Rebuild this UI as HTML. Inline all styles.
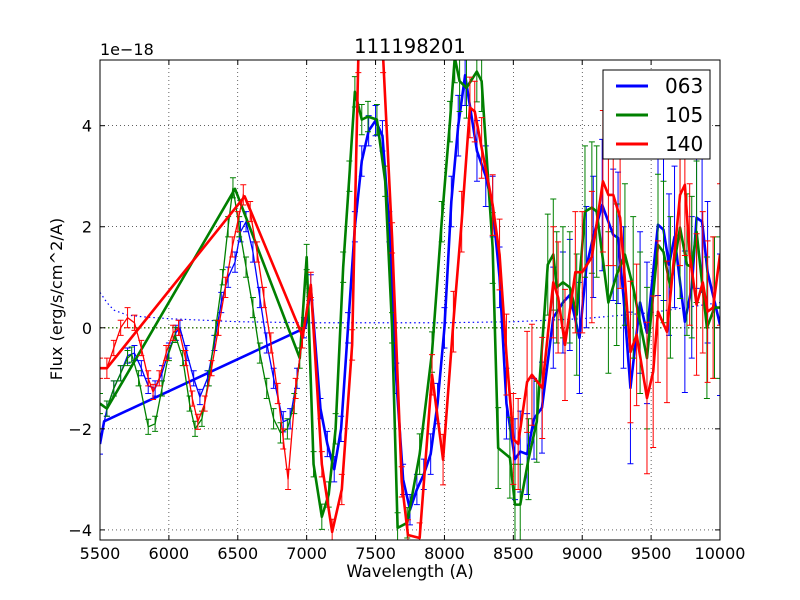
<!DOCTYPE html>
<html><head><meta charset="utf-8"><style>
body{margin:0;background:#fff}
svg{display:block;font-family:"DejaVu Sans","Liberation Sans",sans-serif}
</style></head><body>
<svg id="chart" width="800" height="600">
<rect width="800" height="600" fill="#fff"/>
<g id="grid"></g>
<g id="plot"></g>
<rect x="100" y="60" width="620" height="480" fill="none" stroke="#000" stroke-width="1"/>
<g id="ticks"></g>
<text x="410" y="53" font-size="19.5" text-anchor="middle">111198201</text>
<text x="100" y="55" font-size="16">1e−18</text>
<text x="410" y="577" font-size="16.5" text-anchor="middle">Wavelength (A)</text>
<text x="62" y="299" font-size="16.2" text-anchor="middle" transform="rotate(-90 62 299)">Flux (erg/s/cm^2/A)</text>
<g>
<rect x="603" y="70" width="107" height="89" fill="#fff" stroke="#000"/>
<line x1="616" y1="86" x2="648" y2="86" stroke="#0000ff" stroke-width="3"/>
<text x="665" y="93" font-size="20">063</text>
<line x1="616" y1="115" x2="648" y2="115" stroke="#008000" stroke-width="3"/>
<text x="665" y="122" font-size="20">105</text>
<line x1="616" y1="144" x2="648" y2="144" stroke="#ff0000" stroke-width="3"/>
<text x="665" y="151" font-size="20">140</text>
</g>
</svg>
<script>
const xTicks=[5500,6000,6500,7000,7500,8000,8500,9000,9500,10000];
const yTicks=[-4,-2,0,2,4];
const blueWl=[5500,5550,5600,5650,5700,5750,5800,5850,5900,5950,6000,6050,6080,6130,6180,6225,6280,6330,6380,6430,6480,6520,6560,6610,6660,6710,6760,6830,6880,6930,6980,7030,7100,7150,7200,7250,7300,7350,7400,7450,7500,7550,7600,7650,7700,7750,7800,7850,7900,7950,8000,8050,8100,8150,8236,8300,8350,8400,8450,8512,8550,8600,8650,8708,8790,8860,8910,8980,9030,9080,9145,9225,9260,9300,9350,9420,9470,9550,9590,9630,9670,9745,9795,9830,9870,9910,10000];
const blueFlux=[-2.3,-1.6,-1.2,-0.9,-0.55,-0.5,-0.8,-1.15,-1.2,-0.9,-0.45,-0.1,0,-0.5,-1.0,-1.37,-1.0,-0.3,0.5,1.0,1.3,1.9,2.1,1.5,0.6,-0.3,-1.0,-1.86,-1.8,-1.0,0.0,0.8,-1.6,-2.3,-2.8,-2.0,0.0,2.0,3.3,3.9,4.1,3.8,2.0,-1.0,-3.0,-3.6,-3.2,-2.9,-2.5,-1.5,0.0,2.5,4.0,5.0,3.5,3.0,2.4,1.0,-1.5,-2.6,-2.45,-2.5,-1.8,-1.58,0.2,0.5,0.65,-0.2,1.2,1.8,2.43,1.84,1.78,0.6,-1.19,0.5,-0.1,2.04,1.94,1.25,1.8,0.12,0.8,2.18,2.1,1.1,0.06];
const blueErr=[0.2,0.15,0.15,0.15,0.15,0.15,0.15,0.15,0.15,0.15,0.15,0.15,0.15,0.15,0.15,0.15,0.15,0.15,0.2,0.2,0.2,0.2,0.2,0.2,0.2,0.2,0.2,0.2,0.2,0.2,0.2,0.25,0.2,0.25,0.25,0.25,0.3,0.3,0.3,0.3,0.3,0.3,0.3,0.3,0.3,0.3,0.3,0.3,0.4,0.4,0.4,0.5,0.6,0.6,0.6,0.6,0.6,0.6,0.7,0.8,0.8,0.8,0.8,0.9,1.0,1.0,1.1,1.1,1.2,1.2,1.3,1.3,1.3,1.4,1.5,1.4,1.4,1.4,1.4,1.4,1.4,1.4,1.4,1.4,1.4,1.4,1.4];
const blueJump=[[5500,-2.3],[5530,-1.85],[6990,0.0]];
const greenWl=[5500,5550,5600,5650,5700,5730,5780,5850,5900,5950,6000,6045,6100,6150,6190,6240,6290,6340,6390,6430,6465,6510,6560,6610,6660,6710,6760,6810,6860,6910,6950,7000,7050,7110,7160,7210,7265,7310,7350,7400,7445,7510,7570,7620,7660,7730,7820,7910,7980,8040,8075,8110,8160,8235,8270,8350,8390,8475,8512,8550,8610,8670,8750,8790,8815,8860,8910,8960,9020,9070,9105,9190,9250,9310,9370,9420,9470,9550,9590,9640,9710,9760,9795,9830,9905,9960,10000];
const greenFlux=[-1.5,-1.6,-1.2,-0.9,-0.6,-0.53,-1.0,-1.96,-1.9,-1.2,-0.5,-0.14,-0.6,-1.5,-2.0,-1.8,-1.0,0.0,1.0,2.0,2.77,2.0,1.2,0.4,-0.5,-1.2,-1.8,-2.08,-2.0,-1.5,-0.6,1.4,-2.7,-3.74,-3.3,-2.0,1.2,3.0,4.67,4.12,4.18,4.12,2.9,0.0,-3.96,-3.86,-2.5,-0.48,2.1,4.08,5.35,4.88,4.75,5.07,4.88,1.58,-2.38,-2.57,-3.5,-3.5,-2.6,-1.86,1.25,1.45,0.8,0.9,0.8,0.26,2.3,2.38,2.3,0.5,1.05,1.45,0.8,0.1,-0.6,1.64,1.5,0.8,1.98,1.25,1.2,1.9,0.0,0.4,0.4];
const greenErr=[0.2,0.15,0.15,0.15,0.15,0.15,0.15,0.15,0.15,0.15,0.15,0.15,0.15,0.15,0.15,0.15,0.15,0.15,0.15,0.2,0.2,0.2,0.2,0.2,0.2,0.2,0.2,0.2,0.2,0.2,0.2,0.25,0.25,0.25,0.25,0.3,0.3,0.3,0.3,0.3,0.3,0.3,0.3,0.3,0.3,0.3,0.4,0.4,0.4,0.4,0.5,0.6,0.6,0.6,0.6,0.7,0.8,0.8,0.8,0.8,0.8,0.8,1.0,1.1,1.1,1.1,1.1,1.2,1.3,1.3,1.3,1.4,1.4,1.4,1.4,1.4,1.4,1.4,1.4,1.4,1.4,1.4,1.4,1.4,1.4,1.4,1.4];
const greenJump=[[5500,-1.5],[5550,-1.6],[6480,2.75],[6950,-0.6]];
const redWl=[5500,5550,5600,5650,5700,5750,5800,5850,5885,5930,5980,6030,6070,6120,6170,6210,6260,6310,6360,6410,6460,6500,6540,6590,6640,6690,6740,6790,6830,6865,6920,6970,7030,7110,7185,7255,7330,7375,7450,7500,7555,7620,7690,7735,7820,7910,7990,8065,8125,8185,8220,8270,8350,8400,8450,8500,8535,8600,8635,8710,8790,8825,8875,8950,9000,9070,9150,9190,9225,9275,9350,9395,9470,9515,9550,9615,9710,9745,9780,9830,9875,9910,9950,10000];
const redFlux=[-0.8,-0.8,-0.4,0.0,0.2,0.1,-0.4,-1.0,-1.27,-1.0,-0.5,-0.1,0.0,-0.6,-1.4,-1.86,-1.5,-0.8,0.0,0.8,1.6,2.1,2.63,2.3,1.5,0.6,-0.3,-1.3,-2.2,-3.0,-1.2,-0.2,0.85,-2.7,-4.04,-3.2,-0.34,5.35,6.2,6.2,5.35,1.78,-3.05,-4.1,-4.16,-0.93,-2.61,0.12,2.1,4.36,4.28,3.56,2.43,1.45,-0.53,-2.2,-2.3,-1.07,-0.93,-1.19,0.9,0.6,-0.34,1.1,1.1,1.4,2.9,2.63,2.63,2.18,-0.48,-0.14,-1.39,-0.87,0.32,-0.08,2.63,2.83,1.45,0.46,0.9,0.32,0.4,1.45];
const redErr=[0.2,0.2,0.15,0.15,0.2,0.15,0.15,0.15,0.15,0.15,0.15,0.15,0.15,0.15,0.15,0.15,0.15,0.15,0.15,0.2,0.2,0.2,0.2,0.2,0.2,0.2,0.2,0.2,0.2,0.2,0.2,0.2,0.25,0.25,0.25,0.3,0.3,0.3,0.3,0.3,0.3,0.3,0.3,0.3,0.3,0.4,0.5,0.6,0.6,0.6,0.6,0.6,0.6,0.7,0.8,0.9,0.9,1.0,1.0,1.0,1.1,1.1,1.1,1.2,1.2,1.3,1.4,1.4,1.4,1.4,1.4,1.4,1.5,1.5,1.4,1.4,1.4,1.4,1.4,1.4,1.4,1.4,1.4,1.4];
const redJump=[[5500,-0.8],[5550,-0.8],[6550,2.6],[6960,-0.1]];
const blueNoiseWl=[5500,5550,5600,5700,5800,6000,6500,7000,7500,8000,8500,9000,9500,10000];
const blueNoise=[0.7,0.5,0.35,0.25,0.22,0.18,0.12,0.1,0.1,0.1,0.12,0.18,0.3,0.5];

const X0=5500,X1=10000,Y0=-4.2,Y1=5.3,L=100,R=720,T=60,B=540;
const sx=v=>L+(v-X0)/(X1-X0)*(R-L);
const sy=v=>B-(v-Y0)/(Y1-Y0)*(B-T);
const NS='http://www.w3.org/2000/svg';
function mk(tag,attrs,parent){const e=document.createElementNS(NS,tag);for(const k in attrs)e.setAttribute(k,attrs[k]);parent.appendChild(e);return e;}
const grid=document.getElementById('grid'),ticks=document.getElementById('ticks'),plot=document.getElementById('plot');
xTicks.forEach(t=>{
  const x=sx(t);
  const g=mk('line',{x1:x,y1:T,x2:x,y2:B,stroke:'#000','stroke-width':0.6,'stroke-dasharray':'1,3'},grid);
  
  
  mk('line',{x1:x,y1:B,x2:x,y2:B-5,stroke:'#000'},ticks);
  mk('line',{x1:x,y1:T,x2:x,y2:T+5,stroke:'#000'},ticks);
  const tx=mk('text',{x:x,y:B+19,'font-size':16,'text-anchor':'middle'},ticks);
  tx.textContent=t;
  
  
});
yTicks.forEach(t=>{
  const y=sy(t);
  const g=mk('line',{x1:L,y1:y,x2:R,y2:y,stroke:'#000','stroke-width':0.6,'stroke-dasharray':'1,3'},grid);
  
  
  mk('line',{x1:L,y1:y,x2:L+5,y2:y,stroke:'#000'},ticks);
  mk('line',{x1:R,y1:y,x2:R-5,y2:y,stroke:'#000'},ticks);
  const tx=mk('text',{x:L-8,y:y+6,'font-size':16,'text-anchor':'end'},ticks);
  tx.textContent=(t<0?'−':'')+Math.abs(t);
  
  
});
const clip=mk('clipPath',{id:'cp'},plot);mk('rect',{x:L,y:T,width:R-L,height:B-T},clip);
const area=mk('g',{'clip-path':'url(#cp)'},plot);
const zero=['#ff0000','#008000'];
zero.forEach(c=>{const z=mk('line',{x1:L,y1:sy(0),x2:R,y2:sy(0),stroke:c,'stroke-width':1.2,'stroke-dasharray':'1.5,2.5'},area);

});
const bn=mk('polyline',{points:blueNoiseWl.map((w,i)=>sx(w)+','+sy(blueNoise[i])).join(' '),fill:'none',stroke:'#0000ff','stroke-width':1.2,'stroke-dasharray':'1.5,3'},area);


function series(name,col,wl,fl,er,jump){
  const g=mk('g',{},area);
  
  
  wl.forEach((w,i)=>{const x=sx(w),y1=sy(fl[i]-er[i]),y2=sy(fl[i]+er[i]);
    const e=mk('path',{d:`M${x},${y1}V${y2}M${x-3},${y1}h6M${x-3},${y2}h6`,stroke:col,'stroke-width':1,fill:'none'},g);
    
    });
  const thin=mk('polyline',{points:wl.map((w,i)=>sx(w)+','+sy(fl[i])).join(' '),fill:'none',stroke:col,'stroke-width':1.3},g);
  
  
  const last=jump[jump.length-1][0];
  const pts=jump.map(p=>sx(p[0])+','+sy(p[1]));
  wl.forEach((w,i)=>{if(w>last)pts.push(sx(w)+','+sy(fl[i]));});
  const thick=mk('polyline',{points:pts.join(' '),fill:'none',stroke:col,'stroke-width':2.6,'stroke-linejoin':'round'},g);
  
  
}
series('063','#0000ff',blueWl,blueFlux,blueErr,blueJump);
series('105','#008000',greenWl,greenFlux,greenErr,greenJump);
series('140','#ff0000',redWl,redFlux,redErr,redJump);
</script>
</body></html>
